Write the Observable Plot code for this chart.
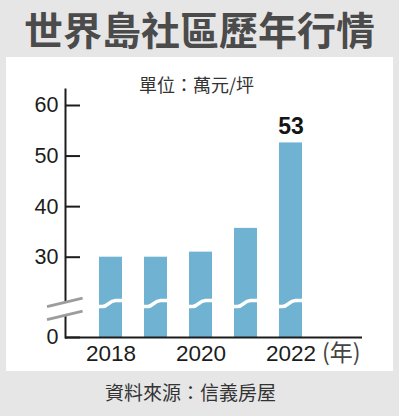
<!DOCTYPE html>
<html>
<head>
<meta charset="utf-8">
<script src="https://cdn.jsdelivr.net/npm/d3@7"></script>
<script src="https://cdn.jsdelivr.net/npm/@observablehq/plot@0.6"></script>
<style>
html, body { margin: 0; padding: 0; background: #e6e6e6; }
#wrap { position: relative; width: 399px; height: 416px; background: #e6e6e6; overflow: hidden; font-family: "Noto Sans CJK TC", "Noto Sans CJK SC", sans-serif; }
#title { position: absolute; left: 0; top: 0; width: 399px; height: 57px; line-height: 57px; text-align: center; font-size: 39px; font-weight: bold; color: #4b4b4b; white-space: nowrap; }
#panel { position: absolute; left: 6px; top: 57px; width: 387px; height: 314px; background: #ffffff; }
#unit { position: absolute; left: 139px; top: 74px; font-size: 18px; line-height: 20px; color: #333; white-space: nowrap; }
#chart { position: absolute; left: 0; top: 56px; }
#source { position: absolute; left: 105px; top: 382px; font-size: 19px; line-height: 20px; color: #333; white-space: nowrap; }
</style>
</head>
<body>
<div id="wrap">
  <div id="title"></div>
  <div id="panel"></div>
  <div id="unit"></div>
  <div id="chart"></div>
  <div id="source"></div>
</div>
<script>
// ---- data ----
const titleText = "世界島社區歷年行情";
const unitText = "單位：萬元/坪";
const sourceText = "資料來源：信義房屋";
const yearSuffix = "(年)";
const years = [2018, 2019, 2020, 2021, 2022];
const prices = [30, 30, 31, 35.7, 52.6];
const labelled = [2022];
const yTicks = [0, 30, 40, 50, 60];
const xTicks = [2018, 2020, 2022];
const yDomain = [0, 30, 60];
const barBreakValue = 12.5;
const axisBreakValue = 10.5;

document.getElementById("title").textContent = titleText;
document.getElementById("unit").textContent = unitText;
document.getElementById("source").textContent = sourceText;

const data = years.map((year, i) => ({year, price: prices[i]}));

const W = 399, H = 315;
const mLeft = 65, mRight = 37, mTop = 33, mBottom = 34;
const ink = "#1c1c1c";

const plot = Plot.plot({
  width: W,
  height: H,
  marginLeft: mLeft,
  marginRight: mRight,
  marginTop: mTop,
  marginBottom: mBottom,
  style: {background: "transparent", overflow: "visible", fontFamily: "'Liberation Sans', Arial, sans-serif", color: ink},
  x: {type: "band", domain: years, range: [85.6, 314.4], paddingInner: 0.5, paddingOuter: 0.25},
  y: {type: "linear", domain: yDomain, range: [281, 200.7, 49]},
  marks: [
    Plot.barY(data, {x: "year", y: "price", fill: "#70b2d2"}),
    Plot.frame({anchor: "left", stroke: ink, strokeWidth: 2}),
    Plot.ruleY([0], {stroke: ink, strokeWidth: 2}),
    Plot.axisY({ticks: yTicks, label: null, tickSize: -15, tickPadding: 22, fontSize: 21.5, strokeWidth: 2, stroke: ink, fill: ink, tickFormat: d => `${d}`}),
    Plot.axisX({ticks: xTicks, label: null, tickSize: 0, tickPadding: 8, fontSize: 22.5, fill: ink, tickFormat: d => `${d}`}),
    Plot.text(data, {filter: d => labelled.includes(d.year), x: "year", y: "price", text: d => `${Math.round(d.price)}`, lineAnchor: "bottom", dy: -9, fontSize: 23, fontWeight: "bold", fill: "#151515"}),
    Plot.text([yearSuffix], {frameAnchor: "bottom-right", text: d => d, textAnchor: "end", lineAnchor: "top", dy: 7, dx: -2, fontSize: 23, fontFamily: "'Noto Sans CJK TC', sans-serif", fill: "#444"})
  ]
});
document.getElementById("chart").appendChild(plot);

// ---- broken-axis decorations, positioned from the plot's scales ----
const xs = plot.scale("x"), ys = plot.scale("y");
const bw = xs.bandwidth;
const svg = d3.select(plot);
const g = svg.append("g");
const yc = ys.apply(barBreakValue);
years.forEach(yr => {
  const x0 = xs.apply(yr), x1 = x0 + bw;
  const p = d3.path();
  p.moveTo(x0 - 1, yc + 3);
  p.lineTo(x0 + bw * 0.15, yc + 3);
  p.bezierCurveTo(x0 + bw * 0.42, yc + 3, x0 + bw * 0.42, yc - 3, x0 + bw * 0.72, yc - 3);
  p.lineTo(x1 + 1, yc - 3);
  g.append("path").attr("d", p.toString()).attr("fill", "none").attr("stroke", "#fff").attr("stroke-width", 3.5);
});
const ya = ys.apply(axisBreakValue);
const half = 6.5, slope = 8.5 / 35.6;
g.append("rect").attr("x", mLeft - 4).attr("y", ya - half).attr("width", 8).attr("height", half * 2).attr("fill", "#fff");
[-half, half].forEach(off => {
  const xa = mLeft - 18, xb = mLeft + 17.6;
  g.append("line")
    .attr("x1", xa).attr("y1", ya + off + slope * 18)
    .attr("x2", xb).attr("y2", ya + off - slope * 17.6)
    .attr("stroke", "#9c9c9c").attr("stroke-width", 2.8);
});
</script>
</body>
</html>
